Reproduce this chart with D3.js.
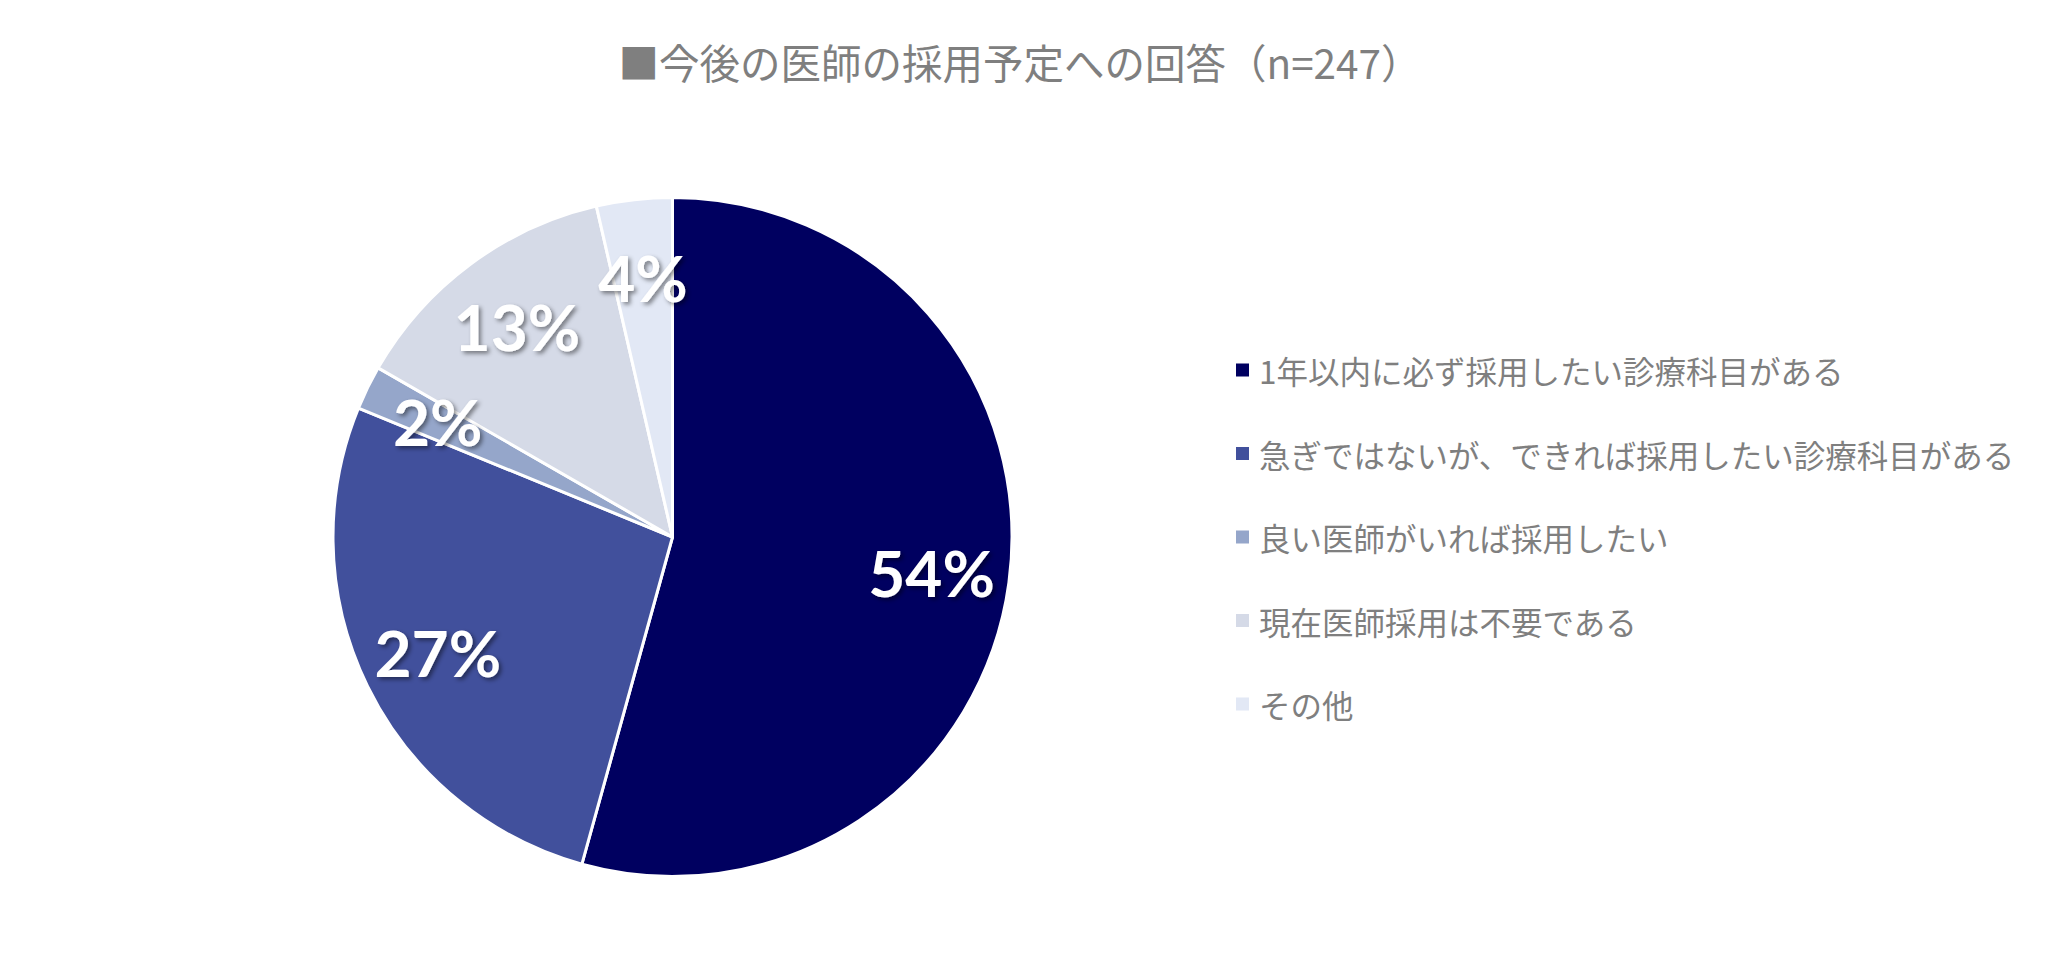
<!DOCTYPE html>
<html>
<head>
<meta charset="utf-8">
<script src="https://cdn.jsdelivr.net/npm/d3@7"></script>
<style>
  html, body { margin: 0; padding: 0; background: #ffffff; }
  svg { display: block; }
</style>
</head>
<body>
<svg id="chart" width="2048" height="966"></svg>
<script>
// ---- data ----
const titleText = "■今後の医師の採用予定への回答（n=247）";
const categories = [
  "1年以内に必ず採用したい診療科目がある",
  "急ぎではないが、できれば採用したい診療科目がある",
  "良い医師がいれば採用したい",
  "現在医師採用は不要である",
  "その他"
];
const percents = [54.3, 26.9, 2.1, 13.1, 3.6];
const labels = ["54%", "27%", "2%", "13%", "4%"];
const colors = ["#000060", "#41509C", "#95A6CA", "#D5DAE7", "#E2E8F5"];

// ---- layout ----
const svg = d3.select("#chart");
const cx = 672.5, cy = 537, R = 339.5;

// drop shadow for labels
const defs = svg.append("defs");
const f = defs.append("filter").attr("id", "shadow")
  .attr("x", "-20%").attr("y", "-20%").attr("width", "140%").attr("height", "140%");
f.append("feDropShadow").attr("dx", 2.5).attr("dy", 2.5)
  .attr("stdDeviation", 2).attr("flood-color", "#000").attr("flood-opacity", 0.45);

// title
svg.append("text")
  .attr("x", 1020).attr("y", 61)
  .attr("text-anchor", "middle")
  .attr("dominant-baseline", "central")
  .attr("font-family", "'Noto Sans CJK JP', sans-serif")
  .attr("font-size", 40.5)
  .attr("fill", "#7F7F7F")
  .text(titleText);

// pie
const data = categories.map((c, i) => ({ cat: c, value: percents[i], label: labels[i], color: colors[i] }));
const pie = d3.pie().sort(null).value(d => d.value).startAngle(0).endAngle(2 * Math.PI);
const arcs = pie(data);
const arc = d3.arc().innerRadius(0).outerRadius(R);
const labelArc = d3.arc().innerRadius(R * 0.77).outerRadius(R * 0.77);

const g = svg.append("g").attr("transform", `translate(${cx},${cy})`);
g.selectAll("path.slice")
  .data(arcs)
  .join("path")
  .attr("class", "slice")
  .attr("d", arc)
  .attr("fill", d => d.data.color)
  .attr("stroke", "#ffffff")
  .attr("stroke-width", 3)
  .attr("stroke-linejoin", "round");

g.selectAll("text.lbl")
  .data(arcs)
  .join("text")
  .attr("class", "lbl")
  .attr("transform", d => `translate(${labelArc.centroid(d)})`)
  .attr("text-anchor", "middle")
  .attr("dominant-baseline", "central")
  .attr("font-family", "Lato, 'Open Sans', sans-serif")
  .attr("font-weight", 700)
  .attr("font-size", 64)
  .attr("fill", "#ffffff")
  .attr("filter", "url(#shadow)")
  .text(d => d.data.label);

// legend
const legendY = d3.scalePoint().domain(categories).range([370, 704]);
const lg = svg.append("g");
const items = lg.selectAll("g.item").data(data).join("g")
  .attr("class", "item")
  .attr("transform", d => `translate(1236,${legendY(d.cat)})`);
items.append("rect")
  .attr("x", 0).attr("y", -6.5)
  .attr("width", 13).attr("height", 13)
  .attr("fill", d => d.color);
items.append("text")
  .attr("x", 23).attr("y", 0)
  .attr("dominant-baseline", "central")
  .attr("font-family", "'Noto Sans CJK JP', sans-serif")
  .attr("font-size", 31.5)
  .attr("fill", "#7F7F7F")
  .text(d => d.cat);
</script>
</body>
</html>
